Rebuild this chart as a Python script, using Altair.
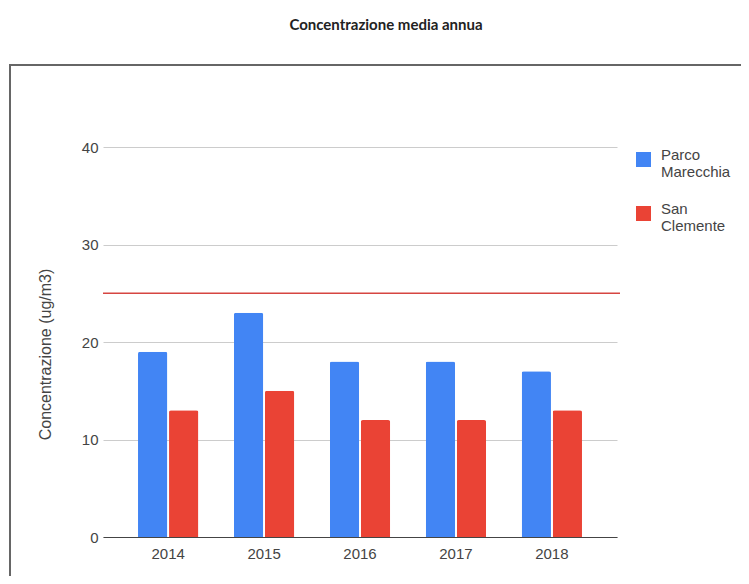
import altair as alt
import pandas as pd

years = ["2014", "2015", "2016", "2017", "2018"]
series = ["Parco Marecchia", "San Clemente"]
parco_marecchia = [19, 23, 18, 18, 17]
san_clemente = [13, 15, 12, 12, 13]
limite = [25]
y_ticks = [0, 10, 20, 30, 40]

rows = []
for i, y in enumerate(years):
    rows.append({"anno": y, "stazione": series[0], "valore": parco_marecchia[i]})
    rows.append({"anno": y, "stazione": series[1], "valore": san_clemente[i]})
df = pd.DataFrame(rows)

W, H = 514, 390
FONT = "Liberation Sans"

frame = alt.Chart(pd.DataFrame({"f": [0]})).mark_rect(
    filled=False, stroke="#666666", strokeWidth=2
).encode(
    x=alt.value(-93), x2=alt.value(660), y=alt.value(-82), y2=alt.value(480)
)

bars = alt.Chart(df).mark_bar(cornerRadiusTopLeft=2, cornerRadiusTopRight=2).encode(
    x=alt.X(
        "anno:N", sort=years,
        scale=alt.Scale(paddingInner=0.371, paddingOuter=0.365),
        axis=alt.Axis(title=None, labelAngle=0, ticks=False, domain=True,
                      domainColor="#444444", domainWidth=1, labelPadding=9,
                      labelFontSize=15, labelColor="#444444", labelFont=FONT, grid=False),
    ),
    xOffset=alt.XOffset("stazione:N", sort=series, scale=alt.Scale(paddingInner=0.055)),
    y=alt.Y(
        "valore:Q", scale=alt.Scale(domain=[0, 40]),
        axis=alt.Axis(values=y_ticks, title="Concentrazione (ug/m3)", titleFont=FONT,
                      titleFontSize=16, titleFontWeight="normal", titleColor="#444444",
                      titlePadding=28, titleY=207, labelFont=FONT, labelFontSize=15,
                      labelColor="#444444", labelPadding=5, ticks=False, domain=False,
                      gridColor="#cccccc", gridWidth=1),
    ),
    color=alt.Color(
        "stazione:N", sort=series,
        scale=alt.Scale(domain=series, range=["#4285F4", "#EA4335"]),
        legend=alt.Legend(
            title=None, orient="none", legendX=533, legendY=5, padding=0,
            symbolType="square", symbolSize=225, symbolStrokeWidth=0,
            labelExpr="split(datum.label, ' ')", labelFont=FONT, labelFontSize=15,
            labelColor="#444444", labelBaseline="alphabetic",
            rowPadding=21, labelOffset=10,
        ),
    ),
)

rule = alt.Chart(pd.DataFrame({"limite": limite})).mark_rule(
    color="#d64541", strokeWidth=1.5
).encode(
    y=alt.Y("limite:Q"), x=alt.value(0), x2=alt.value(517)
)

chart = alt.layer(frame, bars, rule).properties(
    width=W, height=H,
    background="white",
    title=alt.Title("Concentrazione media annua", font="Lato", fontSize=15,
                    fontWeight="bold", color="#222222", anchor="middle", frame="group",
                    offset=16, baseline="bottom", dx=26),
    autosize=alt.AutoSizeParams(type="none"),
    padding={"left": 95, "top": 139, "right": 124, "bottom": 39},
).configure_view(stroke=None)

chart.save("out.html", embed_options={"renderer": "svg", "actions": False})
